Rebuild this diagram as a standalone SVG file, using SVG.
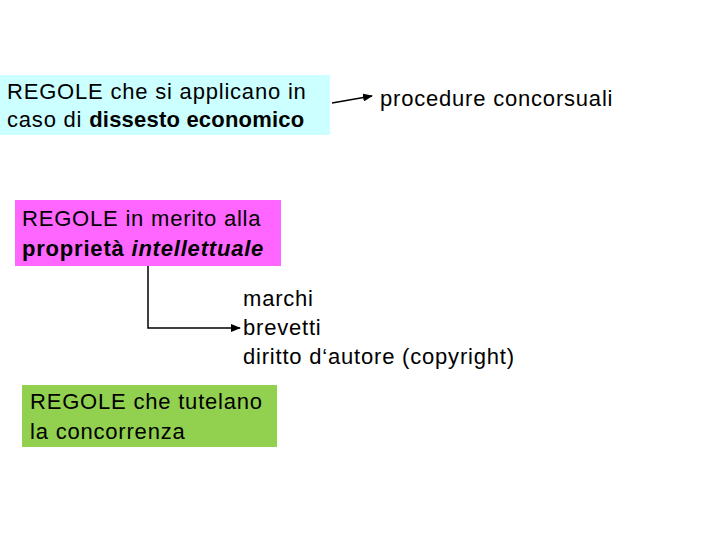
<svg xmlns="http://www.w3.org/2000/svg" width="720" height="540" viewBox="0 0 720 540">
<style>
text{font-family:"Liberation Sans",Arial,sans-serif;font-size:22px;letter-spacing:0.8px;fill:#000}
.c{stroke:#000;stroke-width:1.5;fill:none}
</style>
<defs><marker id="a" markerWidth="10" markerHeight="8" refX="9" refY="4" orient="auto" markerUnits="userSpaceOnUse"><path d="M0,0L10,4L0,8z" fill="#000"/></marker></defs>
<rect width="720" height="540" fill="#fff"/>
<g id="n1"><rect x="0" y="75" width="330" height="60" fill="#CCFFFF"/>
<text x="7" y="99">REGOLE che si applicano in</text>
<text x="7" y="127">caso di <tspan font-weight="bold" letter-spacing="0.2px">dissesto economico</tspan></text></g>
<g id="n2"><text x="380" y="106">procedure concorsuali</text></g>
<g id="n3"><rect x="15" y="200" width="266" height="66" fill="#FF66FF"/>
<text x="22" y="226">REGOLE in merito alla</text>
<text x="22" y="256" letter-spacing="0.1px"><tspan font-weight="bold">proprietà </tspan><tspan font-weight="bold" font-style="italic">intellettuale</tspan></text></g>
<g id="n4"><text x="243" y="306">marchi</text><text x="243" y="335">brevetti</text><text x="243" y="364">diritto d‘autore (copyright)</text></g>
<g id="n5"><rect x="22" y="385" width="255" height="62" fill="#92D050"/>
<text x="30" y="409">REGOLE che tutelano</text><text x="30" y="439">la concorrenza</text></g>
<g id="connectors">
<path class="c" d="M332,103L372,96" marker-end="url(#a)"/>
<path class="c" d="M148,266V328H240" marker-end="url(#a)"/>
</g>
</svg>
